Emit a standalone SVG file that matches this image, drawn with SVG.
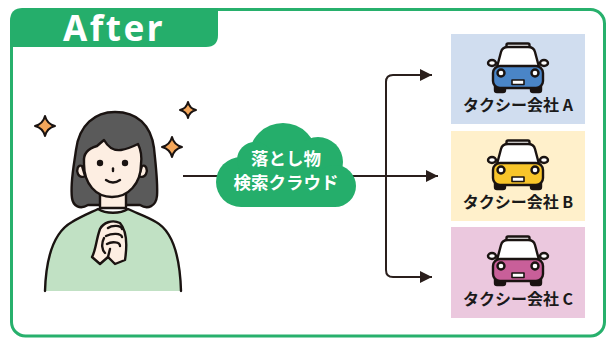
<svg xmlns="http://www.w3.org/2000/svg" width="608" height="338" viewBox="0 0 608 338">
  <style>
    .ink { stroke: #1a1311; stroke-width: 2.4; stroke-linejoin: round; stroke-linecap: round; }
    .wire { fill: none; stroke: #2a1f1c; stroke-width: 2; stroke-linejoin: round; }
    .label { font-family: "Noto Sans CJK JP", "Noto Sans", sans-serif; font-weight: 700; font-size: 16px; fill: #1a1a1a; text-anchor: middle; }
    .cloud-text { font-family: "Noto Sans CJK JP", "Noto Sans", sans-serif; font-weight: 700; font-size: 17.5px; fill: #ffffff; text-anchor: middle; }
    .spark { fill: #f5a75a; stroke: #1a1311; stroke-width: 2; stroke-linejoin: round; }
  </style>
  <defs>
    <marker id="head" viewBox="0 0 12 12" refX="12" refY="6" markerWidth="12" markerHeight="12" markerUnits="userSpaceOnUse" orient="auto">
      <path d="M0,0 L12,6 L0,12 Z" fill="#2a1f1c"/>
    </marker>
    <!-- taxi icon; body colour comes from the "color" of each use -->
    <g id="taxi" class="ink">
      <ellipse cx="-26" cy="20" rx="4" ry="3" fill="#fff"/>
      <ellipse cx="26" cy="20" rx="4" ry="3" fill="#fff"/>
      <rect x="-23" y="39" width="10" height="10" rx="2" fill="#1a1311"/>
      <rect x="13" y="39" width="10" height="10" rx="2" fill="#1a1311"/>
      <rect x="-11.5" y="0.5" width="23" height="4" rx="1.5" fill="#fff"/>
      <path d="M-21,24 L-17,9 C-16,5 -14,4 -10,4 L10,4 C14,4 16,5 17,9 L21,24 Z" fill="#fff"/>
      <rect x="-25" y="23" width="50" height="22" rx="7" fill="currentColor"/>
      <circle cx="-17" cy="30" r="3.5" fill="#fff"/>
      <circle cx="17" cy="30" r="3.5" fill="#fff"/>
      <rect x="-6" y="37" width="12" height="4.5" fill="#fff" stroke-width="1.6"/>
    </g>
  </defs>

  <!-- outer panel and title tab -->
  <g id="panel">
    <rect x="11.5" y="9.5" width="593" height="326.5" rx="14" fill="#fff" stroke="#27b06c" stroke-width="3"/>
    <path d="M10,47 L10,21 Q10,8 23,8 L218,8 L218,35 Q218,47 206,47 Z" fill="#25ae6b"/>
    <text x="114" y="41" font-family="'Noto Sans', 'Liberation Sans', sans-serif" font-weight="700" font-size="35" letter-spacing="2.5" fill="#fff" text-anchor="middle">After</text>
  </g>

  <!-- connectors -->
  <g id="connectors">
    <line class="wire" x1="183" y1="176" x2="222" y2="176"/>
    <line class="wire" x1="350" y1="176" x2="438" y2="176" marker-end="url(#head)"/>
    <path class="wire" d="M386,176 L386,82 Q386,75 393,75 L432,75" marker-end="url(#head)"/>
    <path class="wire" d="M386,176 L386,270 Q386,277 393,277 L432,277" marker-end="url(#head)"/>
  </g>

  <!-- person -->
  <g id="person">
    <path class="ink" fill="#5a5a5a" d="M72,198 C70,183 74,165 76,150 C79,125 95,112 115,112 C137,112 151,125 154,148 C156,168 158,183 157,196 C156,206 148,210 140,205 L88,205 C80,210 73,206 72,198 Z"/>
    <path class="ink" fill="#fdeee2" d="M100,188 L100,208 L126,208 L126,188 Z"/>
    <path d="M45,291 C46,258 54,232 72,222 C82,216 92,212 98,209 C106,214 120,214 128,209 C136,213 146,216 156,222 C174,232 180,258 181,291 Z" fill="#c1e1c4"/>
    <path class="ink" fill="none" d="M45,291 C46,258 54,232 72,222 C82,216 92,212 98,209 C106,214 120,214 128,209 C136,213 146,216 156,222 C174,232 180,258 181,291"/>
    <path class="ink" fill="#fdeee2" d="M82,166 C78,164 76,170 78,174 C80,178 84,177 85,176 Z"/>
    <path class="ink" fill="#fdeee2" d="M142,166 C146,164 148,170 146,174 C144,178 140,177 139,176 Z"/>
    <path class="ink" fill="#fdeee2" d="M84,162 C83,152 90,148 97,146 L104,140 C108,147 114,151 121,150 C128,149 134,146 138,144 C141,150 142,156 141,164 C141,184 128,197 112,197 C96,197 84,184 84,164 Z"/>
    <circle cx="100" cy="163" r="3.2" fill="#1a1311"/>
    <circle cx="125" cy="163" r="3.2" fill="#1a1311"/>
    <path class="ink" fill="none" stroke-width="2" d="M113,168.5 L113,171"/>
    <path class="ink" fill="none" stroke-width="2" d="M106,180 Q113,185 120,180"/>
    <!-- clasped hands -->
    <path class="ink" fill="#fdeee2" d="M100,229 C96,240 96,250 92,257 L100,264 L108,257 L115,264 L125,260 C127,247 127,231 120,223 C112,219 103,223 100,229 Z"/>
    <path class="ink" fill="none" stroke-width="2" d="M108,228 C112,225 121,225 122,229 M106,236 C112,233 121,233 122,237 M107,244 C112,241 120,242 120,246 M108,257 L110,249 M104,238 C101,244 102,250 105,253"/>
    <!-- sparkles -->
    <path class="spark" d="M45,116 Q47,124 55,126 Q47,128 45,136 Q43,128 35,126 Q43,124 45,116 Z"/>
    <path class="spark" d="M188,102 Q189.5,108.5 196,110 Q189.5,111.5 188,118 Q186.5,111.5 180,110 Q186.5,108.5 188,102 Z"/>
    <path class="spark" d="M172,137 Q174,145 182,147 Q174,149 172,157 Q170,149 162,147 Q170,145 172,137 Z"/>
  </g>

  <!-- lost-item search cloud -->
  <g id="cloud">
    <g fill="#25ae6b">
      <circle cx="283" cy="157" r="34"/>
      <circle cx="241" cy="182" r="25"/>
      <circle cx="318" cy="162" r="25"/>
      <circle cx="335" cy="186" r="21"/>
      <rect x="241" y="172" width="94" height="35"/>
      <circle cx="255" cy="160" r="18"/>
    </g>
    <text class="cloud-text" x="286" y="165">落とし物</text>
    <text class="cloud-text" x="286" y="189">検索クラウド</text>
  </g>

  <!-- taxi companies -->
  <g id="taxi-a">
    <rect x="451" y="34" width="134" height="90" fill="#d0ddef"/>
    <use href="#taxi" transform="translate(518,43)" style="color:#4a85c7"/>
    <text class="label" x="518" y="111">タクシー会社 A</text>
  </g>
  <g id="taxi-b">
    <rect x="451" y="131" width="134" height="90" fill="#fff0cb"/>
    <use href="#taxi" transform="translate(518,140)" style="color:#f8c52a"/>
    <text class="label" x="518" y="208">タクシー会社 B</text>
  </g>
  <g id="taxi-c">
    <rect x="451" y="227" width="134" height="91" fill="#ebc8de"/>
    <use href="#taxi" transform="translate(518,236)" style="color:#c85f99"/>
    <text class="label" x="518" y="305">タクシー会社 C</text>
  </g>
</svg>
